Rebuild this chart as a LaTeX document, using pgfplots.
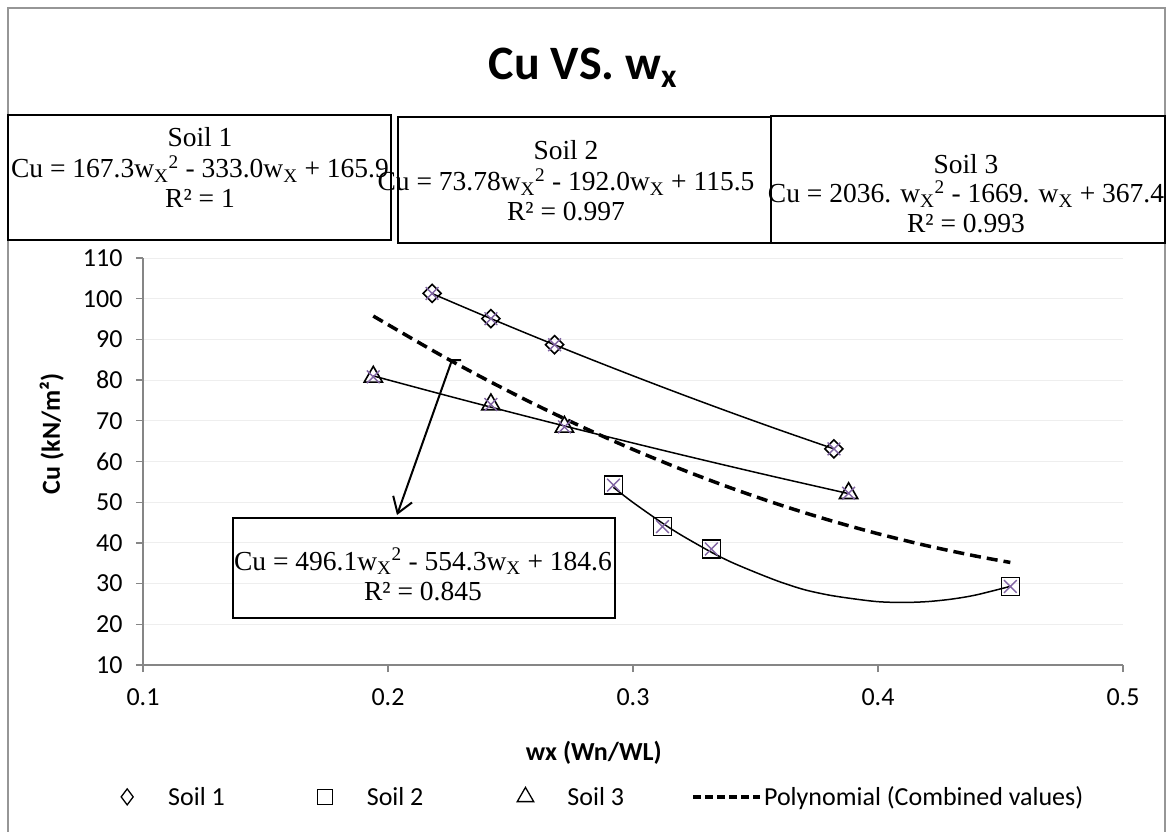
\documentclass[border=0pt]{standalone}
\usepackage{fontspec}
\setmainfont{Carlito}
\newfontfamily\tnr{Liberation Serif}
\usepackage{pgfplots}
\pgfplotsset{compat=1.18}
\usetikzlibrary{arrows.meta}
\definecolor{axgray}{RGB}{134,134,134}
\definecolor{framegray}{RGB}{150,150,150}
\definecolor{xpurple}{RGB}{128,100,162}
\definecolor{gridc}{RGB}{238,238,238}
\begin{document}
\begin{tikzpicture}
\path[use as bounding box] (-143pt,-166pt) rectangle (1024pt,665pt);
\draw[framegray, line width=1.2pt] (-135pt,-300pt) rectangle (1022pt,657pt);
\node[font=\bfseries\fontsize{48}{54}\selectfont, anchor=base] at (440pt,585pt) {Cu VS. w\textsubscript{x}};
\begin{axis}[
  at={(0pt,0pt)}, anchor=south west,
  scale only axis, width=980pt, height=407pt,
  xmin=0.1, xmax=0.5, ymin=10, ymax=110,
  xtick={0.1,0.2,0.3,0.4,0.5}, ytick={10,20,...,110},
  axis x line=bottom, axis y line=left,
  axis line style={-, axgray, line width=1.3pt},
  tick align=outside, major tick length=7pt,
  tick style={axgray, line width=1.3pt},
  ymajorgrids, grid style={gridc, line width=1pt},
  /pgf/number format/assume math mode=true,
  ticklabel style={font=\fontsize{26}{30}\selectfont},
  yticklabel style={xshift=-10pt},
  xticklabel style={yshift=-13pt},
  label style={font=\bfseries\fontsize{26}{30}\selectfont},
  xlabel={wx (Wn/WL)},
  ylabel={Cu (kN/m²)},
  xlabel style={at={(axis description cs:0.46,-0.215)}, anchor=center},
  ylabel style={at={(axis description cs:-0.093,0.568)}, anchor=center},
  legend columns=4,
  legend style={draw=none, fill=none, inner xsep=0pt, inner ysep=0pt,
    nodes={inner sep=0pt, anchor=center},
    font=\fontsize{26}{30}\selectfont,
    at={(axis description cs:-0.0245,-0.324)}, anchor=west},
]
% data series (legend)
\addplot[only marks, mark=square, mark size=6.4pt, mark options={rotate=45, black, line width=1.6pt},
  legend image code/.code={\draw[black, line width=1.3pt, mark=diamond, mark size=8pt, mark options={black, line width=1.3pt, rotate=0}] plot coordinates {(0pt,0pt)}; \path[draw=none, fill=none] (-8pt,0pt) -- (41pt,0pt);}]
  coordinates {(0.218,101.3) (0.242,95.1) (0.268,88.7) (0.382,63.1)};
\addlegendentry{Soil 1}
\addplot[only marks, mark=square, mark size=9pt, mark options={black, line width=1.6pt},
  legend image code/.code={\draw[black, line width=1.3pt, mark=square, mark size=7.5pt, mark options={black, line width=1.3pt}] plot coordinates {(0pt,0pt)}; \path[draw=none, fill=none] (-100pt,0pt) -- (42pt,0pt);}]
  coordinates {(0.292,54.2) (0.312,44.0) (0.332,38.5) (0.454,29.3)};
\addlegendentry{Soil 2}
\addplot[only marks, mark=triangle, mark size=10.5pt, mark options={black, line width=1.6pt},
  legend image code/.code={\draw[black, line width=1.3pt, mark=triangle, mark size=9.5pt, mark options={black, line width=1.3pt}] plot coordinates {(0pt,0pt)}; \path[draw=none, fill=none] (-102pt,0pt) -- (42pt,0pt);}]
  coordinates {(0.194,80.8) (0.242,74.0) (0.272,68.5) (0.388,52.2)};
\addlegendentry{Soil 3}
\addplot[black, line width=3.5pt, dash pattern=on 11pt off 6pt, smooth,
  legend image code/.code={\draw[black, line width=3.5pt, dash pattern=on 8pt off 4pt] (0pt,0pt) -- (67pt,0pt); \path[draw=none, fill=none] (-69pt,0pt) -- (71pt,0pt);}]
  coordinates {(0.194,95.737) (0.22,86.665) (0.24,80.143) (0.26,74.018) (0.28,68.290) (0.30,62.959) (0.32,58.025) (0.34,53.487) (0.36,49.347) (0.38,45.603) (0.40,42.256) (0.42,39.306) (0.44,36.753) (0.454,35.202)};
\addlegendentry{Polynomial (Combined values)}
% trend lines
\addplot[black, line width=1.5pt, smooth, forget plot]
  coordinates {(0.218,101.257) (0.24,95.616) (0.26,90.629) (0.28,85.776) (0.30,81.057) (0.32,76.472) (0.34,72.020) (0.36,67.702) (0.382,63.107)};
\addplot[black, line width=1.5pt, smooth, forget plot]
  coordinates {(0.194,81.029) (0.22,76.831) (0.24,73.670) (0.26,70.568) (0.28,67.524) (0.30,64.540) (0.32,61.615) (0.34,58.749) (0.36,55.942) (0.388,52.111)};
\addplot[black, line width=1.5pt, smooth, forget plot]
  coordinates {(0.292,53.650) (0.30,49.94) (0.312,44.864) (0.32,41.806) (0.332,37.708) (0.34,35.302) (0.35,32.762) (0.36,30.426) (0.37,28.497) (0.38,27.178) (0.39,26.266) (0.40,25.56) (0.41,25.362) (0.42,25.570) (0.43,26.186) (0.44,27.21) (0.454,29.326)};
% purple crosses
\addplot[only marks, mark=x, mark size=9pt, mark options={xpurple, line width=1.4pt}, forget plot]
  coordinates {(0.218,101.3) (0.242,95.1) (0.268,88.7) (0.382,63.1)
               (0.292,54.2) (0.312,44.0) (0.332,38.5) (0.454,29.3)
               (0.194,80.8) (0.242,74.0) (0.272,68.5) (0.388,52.2)};
\end{axis}
% equation boxes
\begin{scope}[every node/.style={font=\tnr\fontsize{27.5}{30}\selectfont, anchor=base, inner sep=0pt}]
\draw[black, line width=1.8pt] (-135pt,550pt) rectangle (248pt,425pt);
\node at (57pt,518pt) {Soil 1};
\node at (57pt,487pt) {Cu = 167.3w\textsubscript{X}\textsuperscript{2} - 333.0w\textsubscript{X} + 165.9};
\node at (57pt,457pt) {R² = 1};
\draw[black, line width=1.8pt] (255pt,548pt) rectangle (628pt,422pt);
\node at (423pt,505pt) {Soil 2};
\node at (423pt,474pt) {Cu = 73.78w\textsubscript{X}\textsuperscript{2} - 192.0w\textsubscript{X} + 115.5};
\node at (423pt,444pt) {R² = 0.997};
\draw[black, line width=1.8pt] (628pt,549pt) rectangle (1022pt,422pt);
\node at (823pt,491pt) {Soil 3};
\node at (823pt,462pt) {Cu = 2036. w\textsubscript{X}\textsuperscript{2} - 1669. w\textsubscript{X} + 367.4};
\node at (823pt,432pt) {R² = 0.993};
\draw[black, line width=1.8pt] (90pt,147pt) rectangle (472pt,47pt);
\node at (280pt,95pt) {Cu = 496.1w\textsubscript{X}\textsuperscript{2} - 554.3w\textsubscript{X} + 184.6};
\node at (280pt,65pt) {R² = 0.845};
\end{scope}
\draw[line width=2pt, -{Straight Barb[length=15pt, width=20pt, line width=2pt]}] (318pt,305pt) -- (309pt,305pt) -- (254pt,150pt);
\end{tikzpicture}
\end{document}
